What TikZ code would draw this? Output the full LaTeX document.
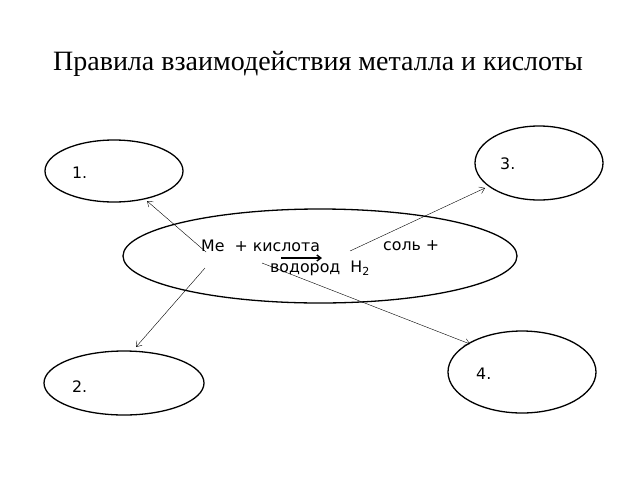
\documentclass[tikz,border=0pt]{standalone}
\usepackage{fontspec}
\setmainfont{DejaVu Sans}
\newfontfamily\titlefont{Liberation Serif}
\usetikzlibrary{arrows.meta}
\begin{document}
\begin{tikzpicture}[x=1pt,y=-1pt,
  oval/.style={draw,line width=1.3pt},
  lbl/.style={font=\fontsize{15.8}{18}\selectfont,inner sep=0pt},
  con/.style={draw,line width=0.4pt,-{Straight Barb[length=5pt,width=7pt]}}]
\useasboundingbox (0,0) rectangle (640,480);
\node[font=\titlefont\fontsize{28}{32}\selectfont] (title) at (318,64) {Правила взаимодействия металла и кислоты};
\draw[oval] (320,256) ellipse [x radius=197, y radius=47];
\draw[oval] (114,171) ellipse [x radius=69, y radius=31];
\draw[oval] (539,163) ellipse [x radius=64, y radius=37];
\draw[oval] (522,372) ellipse [x radius=74, y radius=41];
\draw[oval] (124,383) ellipse [x radius=80, y radius=32];
\node[lbl,anchor=west] (l1) at (72,173) {1.};
\node[lbl,anchor=west] (l3) at (500,164) {3.};
\node[lbl,anchor=west] (l4) at (476,374) {4.};
\node[lbl,anchor=west] (l2) at (72,387) {2.};
\node[lbl,anchor=west] (t1) at (201,246) {Ме\ \ + кислота};
\node[lbl,anchor=west] (t2) at (383,246) {соль +};
\node[lbl] (t3) at (320,268) {водород\ \ H\textsubscript{2}};
\coordinate (r1) at (281,258); \coordinate (r2) at (322,258);
\draw[line width=1.4pt,-{Straight Barb[length=4pt,width=6pt]}] (r1) -- (r2);
\coordinate (a1) at (206,252); \coordinate (b1) at (147,201);
\coordinate (a3) at (350,251); \coordinate (b3) at (485,188);
\coordinate (a2) at (205,268); \coordinate (b2) at (136,347);
\coordinate (a4) at (262,263); \coordinate (b4) at (470,344);
\draw[con] (a1) -- (b1);
\draw[con] (a3) -- (b3);
\draw[con] (a2) -- (b2);
\draw[con] (a4) -- (b4);
\end{tikzpicture}
\end{document}
